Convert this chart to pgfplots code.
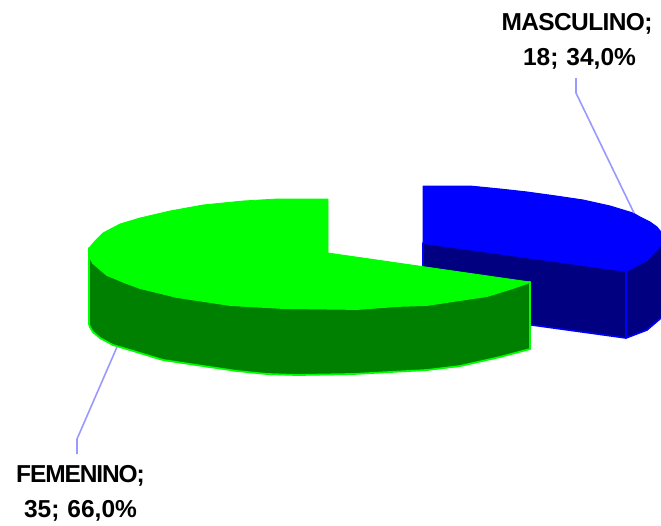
\documentclass[border=0pt]{standalone}
\usepackage{fontspec}
\setmainfont{Liberation Sans}
\usepackage{pgfplots}
\pgfplotsset{compat=1.18}
\definecolor{blueTop}{HTML}{0000FF}
\definecolor{blueSide}{HTML}{000080}
\definecolor{greenTop}{HTML}{00FF00}
\definecolor{greenSide}{HTML}{008000}
\definecolor{leader}{HTML}{9999FF}
\tikzset{pielabel/.style={font=\fontsize{24.5}{35}\selectfont\bfseries, anchor=center, inner sep=0pt}}
\newcommand{\tightcaps}[2]{{\addfontfeature{LetterSpace=#1}#2}}
\begin{document}
\begin{tikzpicture}
\useasboundingbox (0,0) rectangle (661pt,525pt);
\begin{axis}[
    scale only axis,
    width=661pt,
    height=525pt,
    xmin=0, xmax=661,
    ymin=0, ymax=525,
    y dir=reverse,
    hide axis,
    no markers,
    every axis plot/.append style={line join=round},
]
% MASCULINO slice: 18
\addplot[draw=blueTop, line width=1.6pt, fill=blueSide] coordinates {
    (423,243) (626,271) (626,338) (423,310)
} -- cycle;
\addplot[draw=blueTop, line width=1.6pt, fill=blueSide] coordinates {
    (626,271) (647,260) (661,245) (670,240) (670,312) (661,318) (647,330) (626,338)
} -- cycle;
\addplot[draw=blueTop, line width=1pt, fill=blueTop] coordinates {
    (423,186) (470,186) (500,189) (527,192) (556,196) (583,200) (610,206) (633,213)
    (640,217) (650,222) (657,227) (661,232) (668,240) (661,245) (647,260) (626,271) (423,243)
} -- cycle;
% FEMENINO slice: 35
\addplot[draw=greenTop, line width=1.8pt, fill=greenSide] coordinates {
    (89,248) (89,324) (90,327) (93,332) (100,338) (113,345) (140,353) (163,360) (203,366) (237,371)
    (267,374) (297,375) (353,374) (390,372) (427,370) (460,366) (500,357) (530,349) (530,282)
    (513,288) (487,296) (460,300) (427,305) (397,306) (357,309) (283,308) (230,305)
    (177,297) (140,288) (107,275) (93,263) (89,255)
} -- cycle;
\addplot[draw=greenTop, line width=0.8pt, fill=greenTop] coordinates {
    (328,199) (277,199) (243,201) (203,205) (170,211) (140,218) (120,224) (103,233) (95,241)
    (89,248) (89,255) (93,263) (107,275) (125,283) (140,288) (177,297) (230,305) (283,308)
    (357,309) (397,306) (427,305) (460,300) (487,296) (513,288) (530,282) (328,253)
} -- cycle;
% leader lines
\addplot[draw=leader, line width=1.6pt] coordinates {(576,78) (576,93) (634,213)};
\addplot[draw=leader, line width=1.6pt] coordinates {(77,454) (77,439) (117,347)};
\node[pielabel] at (axis cs:577,24) {\tightcaps{-2.5}{MASCULINO;}};
\node[pielabel] at (axis cs:579.5,59) {18;\hspace{8pt}34,0\%};
\node[pielabel] at (axis cs:80.5,476) {\tightcaps{-4.5}{FEMENINO;}};
\node[pielabel] at (axis cs:80.5,511) {35;\hspace{8pt}66,0\%};
\end{axis}
\end{tikzpicture}
\end{document}
